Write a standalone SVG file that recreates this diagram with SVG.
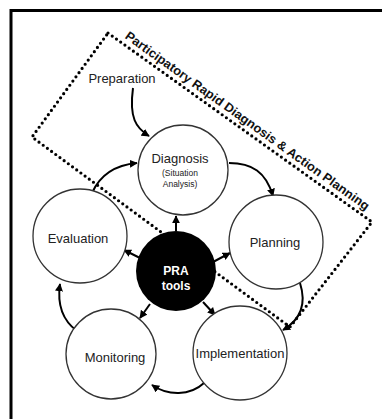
<svg xmlns="http://www.w3.org/2000/svg" width="382" height="419" viewBox="0 0 382 419">
<defs>
<marker id="ah" viewBox="0 0 10 10" refX="9" refY="5" markerWidth="8" markerHeight="8" markerUnits="userSpaceOnUse" orient="auto">
<path d="M0,0 L10,5 L0,10 z" fill="#000"/>
</marker>
<style>
.node{fill:#fff;stroke:#333;stroke-width:1.3}
.lbl{font-family:"Liberation Sans",Arial,sans-serif;font-size:13px;fill:#222;text-anchor:middle}
.sm{font-family:"Liberation Sans",Arial,sans-serif;font-size:8.5px;fill:#222;text-anchor:middle}
.pra{font-family:"Liberation Sans",Arial,sans-serif;font-size:12px;font-weight:bold;fill:#fff;text-anchor:middle}
.con{fill:none;stroke:#000;stroke-width:2;marker-end:url(#ah)}
.dot{fill:none;stroke:#000;stroke-width:3.2;stroke-dasharray:0 5.2;stroke-linecap:round}
.frame{stroke:#000;stroke-width:3;fill:none}
</style>
</defs>
<rect width="382" height="419" fill="#fff"/>
<path class="frame" d="M11,419 V10.5 H382"/>
<g id="pradap">
<polygon class="dot" points="108,33 372,222 290,327 32,137"/>
<text transform="translate(108,33) rotate(35.6)" x="16" y="-5.5" font-family="Liberation Sans, Arial, sans-serif" font-size="12.5" font-weight="bold" fill="#111" textLength="297" lengthAdjust="spacingAndGlyphs">Participatory Rapid Diagnosis &amp; Action Planning</text>
</g>
<g id="preparation">
<text class="lbl" x="122" y="83">Preparation</text>
</g>
<g id="connectors">
<path class="con" d="M133,88 C129,118 136,128 149,136"/>
<path class="con" d="M229,163 C252,163 266,172 273,196"/>
<path class="con" d="M300,283 C307,305 300,320 283,330"/>
<path class="con" d="M204,383 C190,396 168,396 152,385"/>
<path class="con" d="M77,331 C62,320 57,305 60,284"/>
<path class="con" d="M92,193 C100,175 115,165 137,163"/>
<path class="con" d="M176,231 L176,216"/>
<path class="con" d="M140,258 L124,250"/>
<path class="con" d="M213,262 L230,253"/>
<path class="con" d="M150,304 L140,318"/>
<path class="con" d="M203,302 L215,315"/>
</g>
<g id="diagnosis">
<circle class="node" cx="183" cy="170" r="45"/>
<text class="lbl" x="180" y="163">Diagnosis</text>
<text class="sm" x="180" y="175.5">(Situation</text>
<text class="sm" x="180" y="186.5">Analysis)</text>
</g>
<g id="evaluation">
<circle class="node" cx="80" cy="236" r="47"/>
<text class="lbl" x="78" y="243">Evaluation</text>
</g>
<g id="planning">
<circle class="node" cx="276" cy="242" r="47"/>
<text class="lbl" x="275" y="246.5">Planning</text>
</g>
<g id="monitoring">
<circle class="node" cx="111" cy="354" r="45"/>
<text class="lbl" x="115" y="362">Monitoring</text>
</g>
<g id="implementation">
<circle class="node" cx="240" cy="353" r="47"/>
<text class="lbl" x="240" y="358">Implementation</text>
</g>
<g id="pratools">
<circle cx="176" cy="271" r="40" fill="#000"/>
<text class="pra" x="176" y="275">PRA</text>
<text class="pra" x="176" y="290">tools</text>
</g>
</svg>
